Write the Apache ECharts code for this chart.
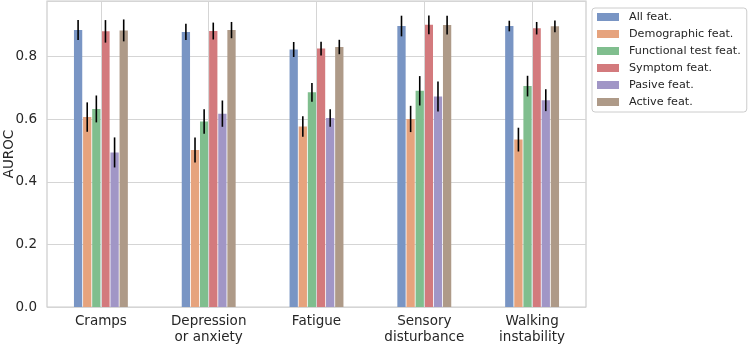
<!DOCTYPE html>
<html>
<head>
<meta charset="utf-8">
<script src="https://cdn.jsdelivr.net/npm/echarts@6/dist/echarts.min.js"></script>
<style>
  html, body { margin: 0; padding: 0; background: #fff; }
  #chartContainer { width: 750px; height: 344px; }
</style>
</head>
<body>
<div id="chartContainer"></div>
<script>
// categories and series values
const categories = ['Cramps', 'Depression\nor anxiety', 'Fatigue', 'Sensory\ndisturbance', 'Walking\ninstability'];
const seriesNames = ['All feat.', 'Demographic feat.', 'Functional test feat.', 'Symptom feat.', 'Pasive feat.', 'Active feat.'];
const seriesColors = ['#7995c4', '#e6a37d', '#80be8e', '#d37a7d', '#a196c6', '#ae9a88'];

const allFeat = [0.885, 0.879, 0.823, 0.898, 0.898];
const demographicFeat = [0.607, 0.502, 0.577, 0.601, 0.535];
const functionalFeat = [0.633, 0.593, 0.686, 0.691, 0.706];
const symptomFeat = [0.881, 0.882, 0.826, 0.902, 0.891];
const pasiveFeat = [0.494, 0.618, 0.604, 0.673, 0.661];
const activeFeat = [0.884, 0.885, 0.831, 0.901, 0.897];

// half-widths of the error bars
const allErr = [0.032, 0.026, 0.024, 0.033, 0.017];
const demographicErr = [0.047, 0.040, 0.033, 0.042, 0.038];
const functionalErr = [0.043, 0.039, 0.030, 0.047, 0.033];
const symptomErr = [0.036, 0.027, 0.022, 0.030, 0.020];
const pasiveErr = [0.048, 0.042, 0.028, 0.048, 0.035];
const activeErr = [0.035, 0.026, 0.023, 0.030, 0.019];

const yTicks = [0, 0.2, 0.4, 0.6, 0.8];

const values = [allFeat, demographicFeat, functionalFeat, symptomFeat, pasiveFeat, activeFeat];
const errors = [allErr, demographicErr, functionalErr, symptomErr, pasiveErr, activeErr];

const FONT = 'DejaVu Sans';
const TEXT = '#262626';
const BAR_GAP = 0.1;
const CAT_GAP = 0.5;

const myChart = echarts.init(document.getElementById('chartContainer'));

const barSeries = values.map((vals, k) => ({
    name: seriesNames[k],
    type: 'bar',
    data: vals,
    barGap: (BAR_GAP * 100) + '%',
    barCategoryGap: (CAT_GAP * 100) + '%',
    itemStyle: { color: seriesColors[k] },
    z: 2
}));

const errData = [];
values.forEach((vals, k) => {
    vals.forEach((v, i) => {
        errData.push([i, v - errors[k][i], v + errors[k][i], k]);
    });
});

const errSeries = {
    type: 'custom',
    data: errData,
    z: 5,
    silent: true,
    renderItem: function (params, api) {
        const cat = api.value(0);
        const k = api.value(3);
        const band = api.size([1, 0])[0];
        const n = seriesNames.length;
        const w = band * (1 - CAT_GAP) / (n + (n - 1) * BAR_GAP);
        const groupW = band * (1 - CAT_GAP);
        const lo = api.coord([cat, api.value(1)]);
        const hi = api.coord([cat, api.value(2)]);
        const x = lo[0] - groupW / 2 + k * w * (1 + BAR_GAP) + w / 2;
        return {
            type: 'line',
            shape: { x1: x, y1: lo[1], x2: x, y2: hi[1] },
            style: { stroke: '#000', lineWidth: 1.6 }
        };
    }
};

// vertical grid lines at category centres, drawn behind the bars
const gridSeries = {
    type: 'line',
    data: [],
    z: 0,
    silent: true,
    markLine: {
        silent: true,
        symbol: 'none',
        label: { show: false },
        lineStyle: { color: '#d5d5d5', type: 'solid', width: 1 },
        data: categories.map((c, i) => ({ xAxis: i }))
    }
};

const option = {
    animation: false,
    textStyle: { fontFamily: FONT, color: TEXT },
    grid: {
        left: 47, right: 164, top: 1, bottom: 37,
        containLabel: false,
        outerBoundsMode: 'none',
        show: true, borderColor: '#cccccc', borderWidth: 1.2, backgroundColor: '#fff'
    },
    legend: {
        data: seriesNames,
        orient: 'vertical',
        left: 592, top: 8,
        width: 156,
        padding: [3, 6, 4, 5],
        itemWidth: 22, itemHeight: 8,
        itemGap: 5,
        icon: 'rect',
        backgroundColor: '#fff',
        borderColor: '#cccccc', borderWidth: 1, borderRadius: 3,
        textStyle: { fontFamily: FONT, fontSize: 11.2, color: TEXT, lineHeight: 12, padding: [0, 0, 0, 5] }
    },
    xAxis: {
        type: 'category',
        data: categories,
        axisLine: { show: false },
        axisTick: { show: false },
        splitLine: { show: false },
        axisLabel: { fontFamily: FONT, fontSize: 13.5, color: TEXT, margin: 7, lineHeight: 15.5 }
    },
    yAxis: {
        type: 'value',
        min: 0, max: 0.978, interval: 0.2,
        name: 'AUROC',
        nameLocation: 'middle',
        nameGap: 31,
        nameMoveOverlap: false,
        nameTextStyle: { fontFamily: FONT, fontSize: 13.5, color: TEXT },
        axisLine: { show: false },
        axisTick: { show: false },
        splitLine: { lineStyle: { color: '#d5d5d5', width: 1 } },
        axisLabel: {
            fontFamily: FONT, fontSize: 13.5, color: TEXT, margin: 10,
            showMaxLabel: false,
            formatter: v => yTicks.includes(Math.round(v * 10) / 10) ? v.toFixed(1) : ''
        }
    },
    series: [gridSeries].concat(barSeries, [errSeries])
};

myChart.setOption(option);
</script>
</body>
</html>
